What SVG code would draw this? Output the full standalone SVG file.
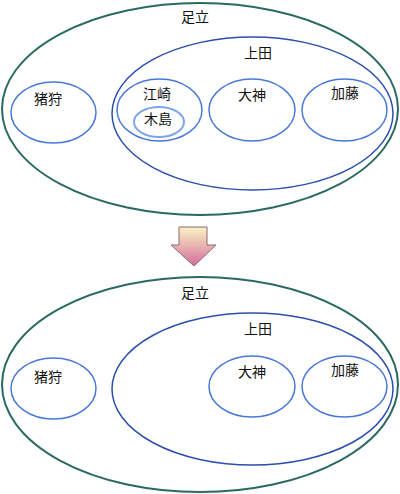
<svg xmlns="http://www.w3.org/2000/svg" width="400" height="494" viewBox="0 0 400 494">
<style>
.outer{fill:none;stroke:#2a6a60;stroke-width:2}
.mid{fill:none;stroke:#2c4fae;stroke-width:1.5}
.inner{fill:none;stroke:#4a78d8;stroke-width:1.5}
.light{fill:none;stroke:#7ea6ee;stroke-width:2}
text{font-family:"Noto Sans CJK JP","Noto Sans CJK SC",sans-serif;font-size:14px;fill:#111;text-anchor:middle}
</style>
<defs>
<linearGradient id="ag" x1="0" y1="0" x2="0" y2="1">
<stop offset="0" stop-color="#fbf4c4"/>
<stop offset="1" stop-color="#d46c9c"/>
</linearGradient>
</defs>
<g id="before">
<g id="adachi1"><ellipse class="outer" cx="200" cy="109" rx="198" ry="106"/><text x="195" y="22">足立</text></g>
<g id="ueda1"><ellipse class="mid" cx="252.5" cy="113.5" rx="140.5" ry="76.5"/><text x="258" y="58">上田</text></g>
<g id="igari1"><ellipse class="inner" cx="53.5" cy="112.5" rx="42.5" ry="30.5"/><text x="48" y="104">猪狩</text></g>
<g id="ezaki1"><ellipse class="inner" cx="159.5" cy="110" rx="42.5" ry="31"/><text x="157" y="99">江崎</text></g>
<g id="kijima1"><ellipse class="light" cx="159" cy="122" rx="25" ry="15"/><text x="158" y="124">木島</text></g>
<g id="ogami1"><ellipse class="inner" cx="252" cy="110" rx="43" ry="31"/><text x="252" y="100">大神</text></g>
<g id="kato1"><ellipse class="inner" cx="344.5" cy="110" rx="42.5" ry="31"/><text x="345" y="98">加藤</text></g>
</g>
<g id="connectors">
<polygon points="179,227 207,227 207,245 216,245 194,266 171,245 179,245" fill="url(#ag)" stroke="#8a6a74" stroke-width="1"/>
</g>
<g id="after">
<g id="adachi2"><ellipse class="outer" cx="200" cy="384.5" rx="198" ry="107.5"/><text x="195" y="298">足立</text></g>
<g id="ueda2"><ellipse class="mid" cx="252.5" cy="389" rx="140.5" ry="76"/><text x="258" y="334">上田</text></g>
<g id="igari2"><ellipse class="inner" cx="53.5" cy="388.5" rx="42.5" ry="30.5"/><text x="48" y="382">猪狩</text></g>
<g id="ogami2"><ellipse class="inner" cx="252" cy="386.5" rx="43" ry="30.5"/><text x="252" y="377">大神</text></g>
<g id="kato2"><ellipse class="inner" cx="344.5" cy="386.5" rx="42.5" ry="30.5"/><text x="345" y="375">加藤</text></g>
</g>
</svg>
